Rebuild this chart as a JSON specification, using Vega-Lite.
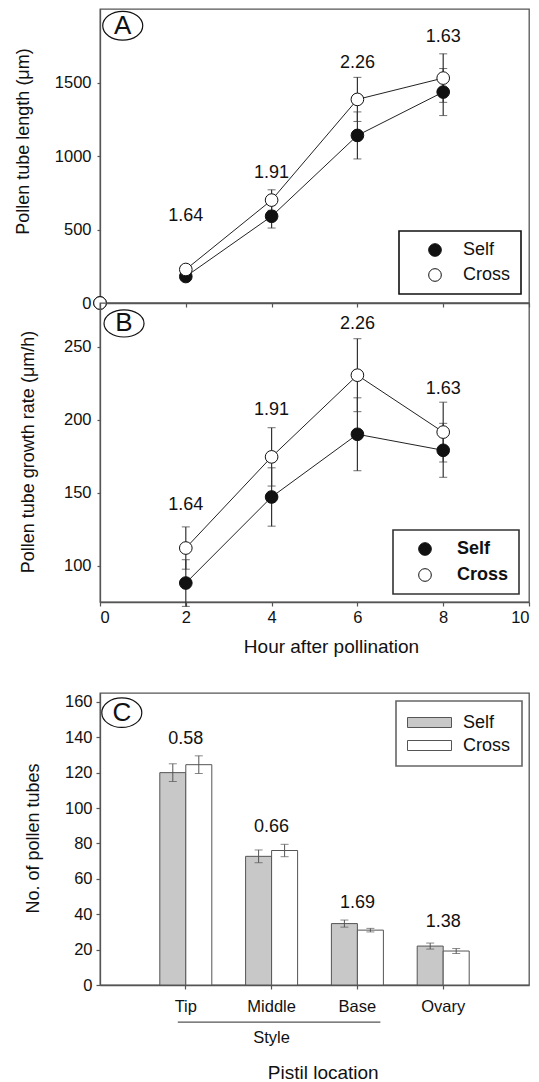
{
  "$schema": "https://vega.github.io/schema/vega-lite/v6.json",
  "padding": {"left": 13, "top": 8, "right": 4, "bottom": 4},
  "bounds": "flush",
  "spacing": 0,
  "config": {
    "font": "Liberation Sans",
    "view": {"stroke": "#555", "strokeWidth": 1.3},
    "axis": {"labelFont": "Liberation Sans", "labelFontSize": 16.5, "labelColor": "#111", "titleFont": "Liberation Sans", "titleFontSize": 18, "titleFontWeight": "normal", "titleColor": "#111", "domainColor": "#555", "domainWidth": 1.3, "tickColor": "#555", "tickSize": 4, "tickWidth": 1.2, "grid": false, "labelPadding": 3, "labelOverlap": false},
    "axisQuantitative": {"format": "d", "labelOverlap": false},
    "legend": {"labelFont": "Liberation Sans", "labelFontSize": 18, "labelColor": "#111", "strokeWidth": 1.6},
    "text": {"font": "Liberation Sans", "fontSize": 18, "color": "#111"}
  },
  "resolve": {"scale": {"x": "independent", "y": "independent", "fill": "independent"}, "legend": {"fill": "independent"}},
  "datasets": {
    "lenA": [
      {"group": "Self", "hour": 0, "mean": 0, "se": 0},
      {"group": "Self", "hour": 2, "mean": 180, "se": 20},
      {"group": "Self", "hour": 4, "mean": 590, "se": 80},
      {"group": "Self", "hour": 6, "mean": 1140, "se": 160},
      {"group": "Self", "hour": 8, "mean": 1435, "se": 160},
      {"group": "Cross", "hour": 0, "mean": 0, "se": 0},
      {"group": "Cross", "hour": 2, "mean": 228, "se": 20},
      {"group": "Cross", "hour": 4, "mean": 700, "se": 70},
      {"group": "Cross", "hour": 6, "mean": 1385, "se": 150},
      {"group": "Cross", "hour": 8, "mean": 1530, "se": 165}
    ],
    "ratA": [
      {"hour": 2, "pos": 592, "txt": "1.64"},
      {"hour": 4, "pos": 884, "txt": "1.91"},
      {"hour": 6, "pos": 1635, "txt": "2.26"},
      {"hour": 8, "pos": 1810, "txt": "1.63"}
    ],
    "rateB": [
      {"group": "Self", "hour": 2, "mean": 88, "se": 16},
      {"group": "Self", "hour": 4, "mean": 147, "se": 20},
      {"group": "Self", "hour": 6, "mean": 190, "se": 25},
      {"group": "Self", "hour": 8, "mean": 179, "se": 18.5},
      {"group": "Cross", "hour": 2, "mean": 112, "se": 14.5},
      {"group": "Cross", "hour": 4, "mean": 174.5, "se": 20},
      {"group": "Cross", "hour": 6, "mean": 230.5, "se": 25},
      {"group": "Cross", "hour": 8, "mean": 191.5, "se": 20.5}
    ],
    "ratB": [
      {"hour": 2, "pos": 141.6, "txt": "1.64"},
      {"hour": 4, "pos": 206.5, "txt": "1.91"},
      {"hour": 6, "pos": 265.5, "txt": "2.26"},
      {"hour": 8, "pos": 220.7, "txt": "1.63"}
    ],
    "tubesC": [
      {"loc": "Tip", "group": "Self", "mean": 120, "se": 5},
      {"loc": "Tip", "group": "Cross", "mean": 124.5, "se": 5},
      {"loc": "Middle", "group": "Self", "mean": 72.7, "se": 3.6},
      {"loc": "Middle", "group": "Cross", "mean": 76, "se": 3.5},
      {"loc": "Base", "group": "Self", "mean": 34.7, "se": 2},
      {"loc": "Base", "group": "Cross", "mean": 31, "se": 1},
      {"loc": "Ovary", "group": "Self", "mean": 22, "se": 1.7},
      {"loc": "Ovary", "group": "Cross", "mean": 19.2, "se": 1.4}
    ],
    "ratC": [
      {"loc": "Tip", "pos": 138.9, "txt": "0.58"},
      {"loc": "Middle", "pos": 89, "txt": "0.66"},
      {"loc": "Base", "pos": 46.5, "txt": "1.69"},
      {"loc": "Ovary", "pos": 35.6, "txt": "1.38"}
    ]
  },
  "vconcat": [
    {
      "width": 429, "height": 294,
      "layer": [
        {
          "data": {"name": "lenA"},
          "transform": [{"filter": "datum.hour > 0"}],
          "mark": {"type": "line", "color": "#222", "strokeWidth": 1},
          "encoding": {
            "x": {"field": "hour", "type": "quantitative", "scale": {"domain": [0, 10], "nice": false}, "axis": {"values": [0, 2, 4, 6, 8, 10], "labels": false, "title": null}},
            "y": {"field": "mean", "type": "quantitative", "title": "Pollen tube length (μm)", "scale": {"domain": [0, 2000], "nice": false, "zero": false}, "axis": {"values": [0, 500, 1000, 1500], "titleAngle": 270, "titleX": -77, "titleY": 132, "titleAlign": "center", "titleBaseline": "middle", "tickSize": 3, "labelPadding": 6}},
            "detail": {"field": "group"}
          }
        },
        {
          "data": {"name": "lenA"},
          "transform": [{"filter": "datum.hour > 0"}],
          "mark": {"type": "errorbar", "ticks": {"size": 8, "color": "#333"}, "rule": {"color": "#333", "strokeWidth": 1.2}},
          "encoding": {
            "x": {"field": "hour", "type": "quantitative", "title": null},
            "y": {"field": "mean", "type": "quantitative", "title": "Pollen tube length (μm)"},
            "yError": {"field": "se"},
            "detail": {"field": "group"}
          }
        },
        {
          "data": {"name": "lenA"},
          "mark": {"type": "point", "shape": "circle", "size": 160, "filled": true, "stroke": "#111", "strokeWidth": 1, "opacity": 1},
          "encoding": {
            "x": {"field": "hour", "type": "quantitative"},
            "y": {"field": "mean", "type": "quantitative", "title": "Pollen tube length (μm)"},
            "fill": {"field": "group", "type": "nominal", "scale": {"domain": ["Self", "Cross"], "range": ["#111", "white"]},
              "legend": {"title": null, "orient": "none", "legendX": 299, "legendY": 222, "symbolType": "circle", "symbolSize": 160, "symbolStrokeColor": "#111", "symbolStrokeWidth": 1, "symbolOffset": 17, "labelOffset": 19, "padding": 10, "rowPadding": 7, "strokeColor": "#111"}}
          }
        },
        {
          "data": {"name": "ratA"},
          "mark": {"type": "text", "fontSize": 18},
          "encoding": {
            "x": {"field": "hour", "type": "quantitative"},
            "y": {"field": "pos", "type": "quantitative", "title": "Pollen tube length (μm)"},
            "text": {"field": "txt"}
          }
        },
        {
          "data": {"values": [{}]},
          "mark": {"type": "point", "shape": "M -1 0 A 1 0.72 0 1 0 1 0 A 1 0.72 0 1 0 -1 0 Z", "size": 1600, "filled": true, "fill": "white", "stroke": "#111", "strokeWidth": 1.2, "opacity": 1},
          "encoding": {"x": {"datum": 0.53}, "y": {"datum": 1886}}
        },
        {
          "data": {"values": [{}]},
          "mark": {"type": "text", "text": "A", "fontSize": 26},
          "encoding": {"x": {"datum": 0.53}, "y": {"datum": 1886}}
        }
      ]
    },
    {
      "width": 429, "height": 299,
      "layer": [
        {
          "data": {"name": "rateB"},
          "mark": {"type": "line", "color": "#222", "strokeWidth": 1},
          "encoding": {
            "x": {"field": "hour", "type": "quantitative", "title": "Hour after pollination", "scale": {"domain": [0, 10], "nice": false}, "axis": {"values": [0, 2, 4, 6, 8, 10], "titleX": 231, "titleY": 50, "titleAlign": "center", "titleBaseline": "alphabetic", "titleFontSize": 19, "labelPadding": 3}},
            "y": {"field": "mean", "type": "quantitative", "title": "Pollen tube growth rate (μm/h)", "scale": {"domain": [75, 280], "nice": false, "zero": false}, "axis": {"values": [100, 150, 200, 250], "titleAngle": 270, "titleX": -72, "titleY": 148.5, "titleAlign": "center", "titleBaseline": "middle", "tickSize": 3, "labelPadding": 6}},
            "detail": {"field": "group"}
          }
        },
        {
          "data": {"name": "rateB"},
          "mark": {"type": "errorbar", "ticks": {"size": 8, "color": "#333"}, "rule": {"color": "#333", "strokeWidth": 1.2}},
          "encoding": {
            "x": {"field": "hour", "type": "quantitative", "title": "Hour after pollination"},
            "y": {"field": "mean", "type": "quantitative", "title": "Pollen tube growth rate (μm/h)"},
            "yError": {"field": "se"},
            "detail": {"field": "group"}
          }
        },
        {
          "data": {"name": "rateB"},
          "mark": {"type": "point", "shape": "circle", "size": 160, "filled": true, "stroke": "#111", "strokeWidth": 1, "opacity": 1},
          "encoding": {
            "x": {"field": "hour", "type": "quantitative", "title": "Hour after pollination"},
            "y": {"field": "mean", "type": "quantitative", "title": "Pollen tube growth rate (μm/h)"},
            "fill": {"field": "group", "type": "nominal", "scale": {"domain": ["Self", "Cross"], "range": ["#111", "white"]},
              "legend": {"title": null, "orient": "none", "legendX": 293, "legendY": 227, "symbolType": "circle", "symbolSize": 160, "symbolStrokeColor": "#111", "symbolStrokeWidth": 1, "symbolOffset": 13, "labelOffset": 23, "padding": 10, "rowPadding": 8, "strokeColor": "#333", "labelFontWeight": "bold"}}
          }
        },
        {
          "data": {"name": "ratB"},
          "mark": {"type": "text", "fontSize": 18},
          "encoding": {
            "x": {"field": "hour", "type": "quantitative", "title": "Hour after pollination"},
            "y": {"field": "pos", "type": "quantitative", "title": "Pollen tube growth rate (μm/h)"},
            "text": {"field": "txt"}
          }
        },
        {
          "data": {"values": [{}]},
          "mark": {"type": "point", "shape": "M -1 0 A 1 0.68 0 1 0 1 0 A 1 0.68 0 1 0 -1 0 Z", "size": 1600, "filled": true, "fill": "white", "stroke": "#111", "strokeWidth": 1.2, "opacity": 1},
          "encoding": {"x": {"datum": 0.56}, "y": {"datum": 266}}
        },
        {
          "data": {"values": [{}]},
          "mark": {"type": "text", "text": "B", "fontSize": 26},
          "encoding": {"x": {"datum": 0.56}, "y": {"datum": 266}}
        }
      ]
    },
    {
      "width": 429, "height": 91,
      "view": {"stroke": null},
      "data": {"values": [{}]},
      "mark": {"type": "point", "opacity": 0},
      "encoding": {}
    },
    {
      "width": 429, "height": 292,
      "layer": [
        {
          "data": {"name": "tubesC"},
          "mark": {"type": "bar", "stroke": "#555", "strokeWidth": 1},
          "encoding": {
            "x": {"field": "loc", "type": "nominal", "title": "Pistil location", "sort": ["Tip", "Middle", "Base", "Ovary"], "scale": {"paddingInner": 0.394, "paddingOuter": 0.697}, "axis": {"labelAngle": 0, "titleX": 222.7, "titleY": 93, "titleAlign": "center", "titleBaseline": "alphabetic", "titleFontSize": 19, "labelPadding": 9}},
            "xOffset": {"field": "group", "type": "nominal", "sort": ["Self", "Cross"], "scale": {"paddingInner": 0, "paddingOuter": 0}},
            "y": {"field": "mean", "type": "quantitative", "title": "No. of pollen tubes", "scale": {"domain": [0, 165], "nice": false}, "axis": {"values": [0, 20, 40, 60, 80, 100, 120, 140, 160], "tickCount": 9, "labelOverlap": false, "titleAngle": 270, "titleX": -66.5, "titleY": 145, "titleAlign": "center", "titleBaseline": "middle", "labelPadding": 4}},
            "fill": {"field": "group", "type": "nominal", "scale": {"domain": ["Self", "Cross"], "range": ["#c8c8c8", "white"]},
              "legend": {"title": null, "orient": "none", "legendX": 296, "legendY": 8, "symbolType": "M -2.2 -0.5 H 2.2 V 0.5 H -2.2 Z", "symbolSize": 400, "symbolStrokeColor": "#555", "symbolStrokeWidth": 1, "symbolOffset": 12, "labelOffset": 23, "padding": 11, "rowPadding": 3, "strokeColor": "#666", "labelFontSize": 18}}
          }
        },
        {
          "data": {"name": "tubesC"},
          "mark": {"type": "errorbar", "ticks": {"size": 8, "color": "#555"}, "rule": {"color": "#555"}},
          "encoding": {
            "x": {"field": "loc", "type": "nominal", "title": "Pistil location", "sort": ["Tip", "Middle", "Base", "Ovary"]},
            "xOffset": {"field": "group", "type": "nominal", "sort": ["Self", "Cross"]},
            "y": {"field": "mean", "type": "quantitative", "title": "No. of pollen tubes", "axis": {"values": [0, 20, 40, 60, 80, 100, 120, 140, 160], "tickCount": 9, "labelOverlap": false}},
            "yError": {"field": "se"}
          }
        },
        {
          "data": {"name": "ratC"},
          "mark": {"type": "text", "fontSize": 18},
          "encoding": {
            "x": {"field": "loc", "type": "nominal", "title": "Pistil location", "sort": ["Tip", "Middle", "Base", "Ovary"]},
            "y": {"field": "pos", "type": "quantitative", "title": "No. of pollen tubes", "axis": {"values": [0, 20, 40, 60, 80, 100, 120, 140, 160], "tickCount": 9, "labelOverlap": false}},
            "text": {"field": "txt"}
          }
        },
        {
          "data": {"values": [{}]},
          "mark": {"type": "rule", "color": "#555", "strokeWidth": 1.3, "xOffset": -8, "x2Offset": 23},
          "encoding": {"x": {"datum": "Tip"}, "x2": {"datum": "Base"}, "y": {"datum": -21, "type": "quantitative", "title": "No. of pollen tubes", "axis": {"values": [0, 20, 40, 60, 80, 100, 120, 140, 160], "tickCount": 9, "labelOverlap": false}}}
        },
        {
          "data": {"values": [{}]},
          "mark": {"type": "text", "text": "Style", "fontSize": 16.5},
          "encoding": {"x": {"datum": "Middle"}, "y": {"datum": -30, "type": "quantitative", "title": "No. of pollen tubes", "axis": {"values": [0, 20, 40, 60, 80, 100, 120, 140, 160], "tickCount": 9, "labelOverlap": false}}}
        },
        {
          "data": {"values": [{}]},
          "mark": {"type": "point", "shape": "M -1 0 A 1 0.74 0 1 0 1 0 A 1 0.74 0 1 0 -1 0 Z", "size": 1600, "filled": true, "fill": "white", "stroke": "#111", "strokeWidth": 1.2, "opacity": 1, "xOffset": -64},
          "encoding": {"x": {"datum": "Tip"}, "y": {"datum": 153.9, "type": "quantitative", "title": "No. of pollen tubes", "axis": {"values": [0, 20, 40, 60, 80, 100, 120, 140, 160], "tickCount": 9, "labelOverlap": false}}}
        },
        {
          "data": {"values": [{}]},
          "mark": {"type": "text", "text": "C", "fontSize": 26, "dx": -64},
          "encoding": {"x": {"datum": "Tip"}, "y": {"datum": 153.9, "type": "quantitative", "title": "No. of pollen tubes", "axis": {"values": [0, 20, 40, 60, 80, 100, 120, 140, 160], "tickCount": 9, "labelOverlap": false}}}
        }
      ]
    }
  ]
}
